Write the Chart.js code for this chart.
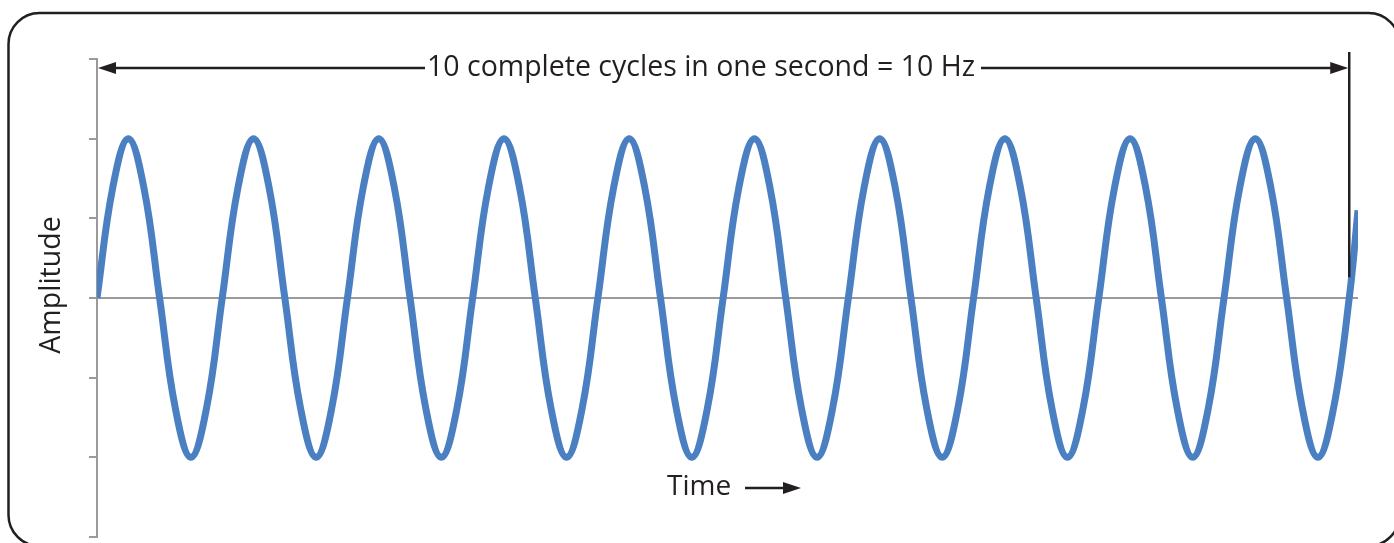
<!DOCTYPE html>
<html>
<head>
<meta charset="utf-8">
<script src="https://cdn.jsdelivr.net/npm/chart.js@4"></script>
<style>
  html, body { margin: 0; padding: 0; background: #fff; }
  #wrap { width: 1394px; height: 543px; }
</style>
</head>
<body>
<div id="wrap"><canvas id="waveChart"></canvas></div>
<script>
// time in cycles (1 unit = 1/10 s), amplitude read at every 1/8 cycle
const times = [
  0, 0.125, 0.25, 0.375, 0.5, 0.625, 0.75, 0.875,
  1, 1.125, 1.25, 1.375, 1.5, 1.625, 1.75, 1.875,
  2, 2.125, 2.25, 2.375, 2.5, 2.625, 2.75, 2.875,
  3, 3.125, 3.25, 3.375, 3.5, 3.625, 3.75, 3.875,
  4, 4.125, 4.25, 4.375, 4.5, 4.625, 4.75, 4.875,
  5, 5.125, 5.25, 5.375, 5.5, 5.625, 5.75, 5.875,
  6, 6.125, 6.25, 6.375, 6.5, 6.625, 6.75, 6.875,
  7, 7.125, 7.25, 7.375, 7.5, 7.625, 7.75, 7.875,
  8, 8.125, 8.25, 8.375, 8.5, 8.625, 8.75, 8.875,
  9, 9.125, 9.25, 9.375, 9.5, 9.625, 9.75, 9.875,
  10, 10.07
];
const amplitude = [
  0, 1.38, 2, 1.38, 0, -1.38, -2, -1.38,
  0, 1.38, 2, 1.38, 0, -1.38, -2, -1.38,
  0, 1.38, 2, 1.38, 0, -1.38, -2, -1.38,
  0, 1.38, 2, 1.38, 0, -1.38, -2, -1.38,
  0, 1.38, 2, 1.38, 0, -1.38, -2, -1.38,
  0, 1.38, 2, 1.38, 0, -1.38, -2, -1.38,
  0, 1.38, 2, 1.38, 0, -1.38, -2, -1.38,
  0, 1.38, 2, 1.38, 0, -1.38, -2, -1.38,
  0, 1.38, 2, 1.38, 0, -1.38, -2, -1.38,
  0, 1.38, 2, 1.38, 0, -1.38, -2, -1.38,
  0, 1.1
];
const yTicks = [-3, -2, -1, 0, 1, 2, 3];
const spanLabel = '10 complete cycles in one second = 10 Hz';
const spanCycles = 10;

const ink = '#231f20';
const axisGray = '#9a9a9a';
const font = '"Open Sans", "DejaVu Sans", sans-serif';

function arrowHead(c, x, y, dir) {
  c.beginPath();
  c.moveTo(x, y);
  c.lineTo(x - dir * 18, y - 6);
  c.lineTo(x - dir * 18, y + 6);
  c.closePath();
  c.fill();
}

const decor = {
  id: 'decor',
  beforeDraw(chart) {
    const c = chart.ctx;
    c.save();
    c.strokeStyle = ink;
    c.lineWidth = 2.5;
    c.beginPath();
    c.roundRect(8.5, 13, 1391, 533, 31);
    c.stroke();
    c.restore();
  },
  afterDraw(chart) {
    const c = chart.ctx;
    const xs = chart.scales.x, ys = chart.scales.y;
    const x0 = xs.getPixelForValue(0);
    const x1 = xs.getPixelForValue(spanCycles);
    const yArrow = 68;
    c.save();
    c.fillStyle = ink;
    c.strokeStyle = ink;

    // span arrow with label
    c.font = '28.5px ' + font;
    c.textBaseline = 'alphabetic';
    c.textAlign = 'center';
    const mid = 701;
    const tw = c.measureText(spanLabel).width;
    c.fillText(spanLabel, mid, 76);
    c.lineWidth = 2.5;
    c.beginPath();
    c.moveTo(x0 + 10, yArrow);
    c.lineTo(mid - tw / 2 - 2, yArrow);
    c.moveTo(mid + tw / 2 + 6, yArrow);
    c.lineTo(x1 - 10, yArrow);
    c.stroke();
    arrowHead(c, x0 + 1, yArrow, -1);
    arrowHead(c, x1 - 1, yArrow, 1);

    // end marker of the 10th cycle
    c.beginPath();
    c.moveTo(x1, 52);
    c.lineTo(x1, ys.getPixelForValue(0.26));
    c.stroke();

    // axis titles
    c.font = '28.5px ' + font;
    c.save();
    c.translate(60, ys.getPixelForValue(0) - 13);
    c.rotate(-Math.PI / 2);
    c.textAlign = 'center';
    c.fillText('Amplitude', 0, 0);
    c.restore();

    c.font = '28px ' + font;
    c.textAlign = 'left';
    c.fillText('Time', 667, 495);
    c.lineWidth = 2.5;
    c.beginPath();
    c.moveTo(745, 488);
    c.lineTo(786, 488);
    c.stroke();
    arrowHead(c, 801, 488, 1);
    c.restore();
  }
};

new Chart(document.getElementById('waveChart'), {
  type: 'line',
  data: {
    labels: times,
    datasets: [{
      label: 'Amplitude',
      data: times.map((t, i) => ({ x: t, y: amplitude[i] })),
      borderColor: '#4a80c2',
      borderWidth: 7,
      pointRadius: 0,
      tension: 0.4,
      borderCapStyle: 'butt',
      fill: false
    }]
  },
  options: {
    responsive: true,
    maintainAspectRatio: false,
    animation: false,
    layout: { padding: { top: 59, right: 36, bottom: 6, left: 0 } },
    plugins: { legend: { display: false }, tooltip: { enabled: false } },
    scales: {
      x: {
        type: 'linear',
        min: 0,
        max: 10.07,
        display: false
      },
      y: {
        min: -3,
        max: 3,
        afterBuildTicks: s => { s.ticks = yTicks.map(v => ({ value: v })); },
        afterFit: s => { s.width = 97; },
        ticks: { display: false },
        border: { display: true, color: axisGray, width: 2 },
        grid: {
          drawOnChartArea: true,
          tickLength: 8,
          lineWidth: 2,
          tickColor: axisGray,
          color: ctx => ctx.tick && ctx.tick.value === 0 ? axisGray : 'rgba(0,0,0,0)'
        }
      }
    }
  },
  plugins: [decor]
});
</script>
</body>
</html>
